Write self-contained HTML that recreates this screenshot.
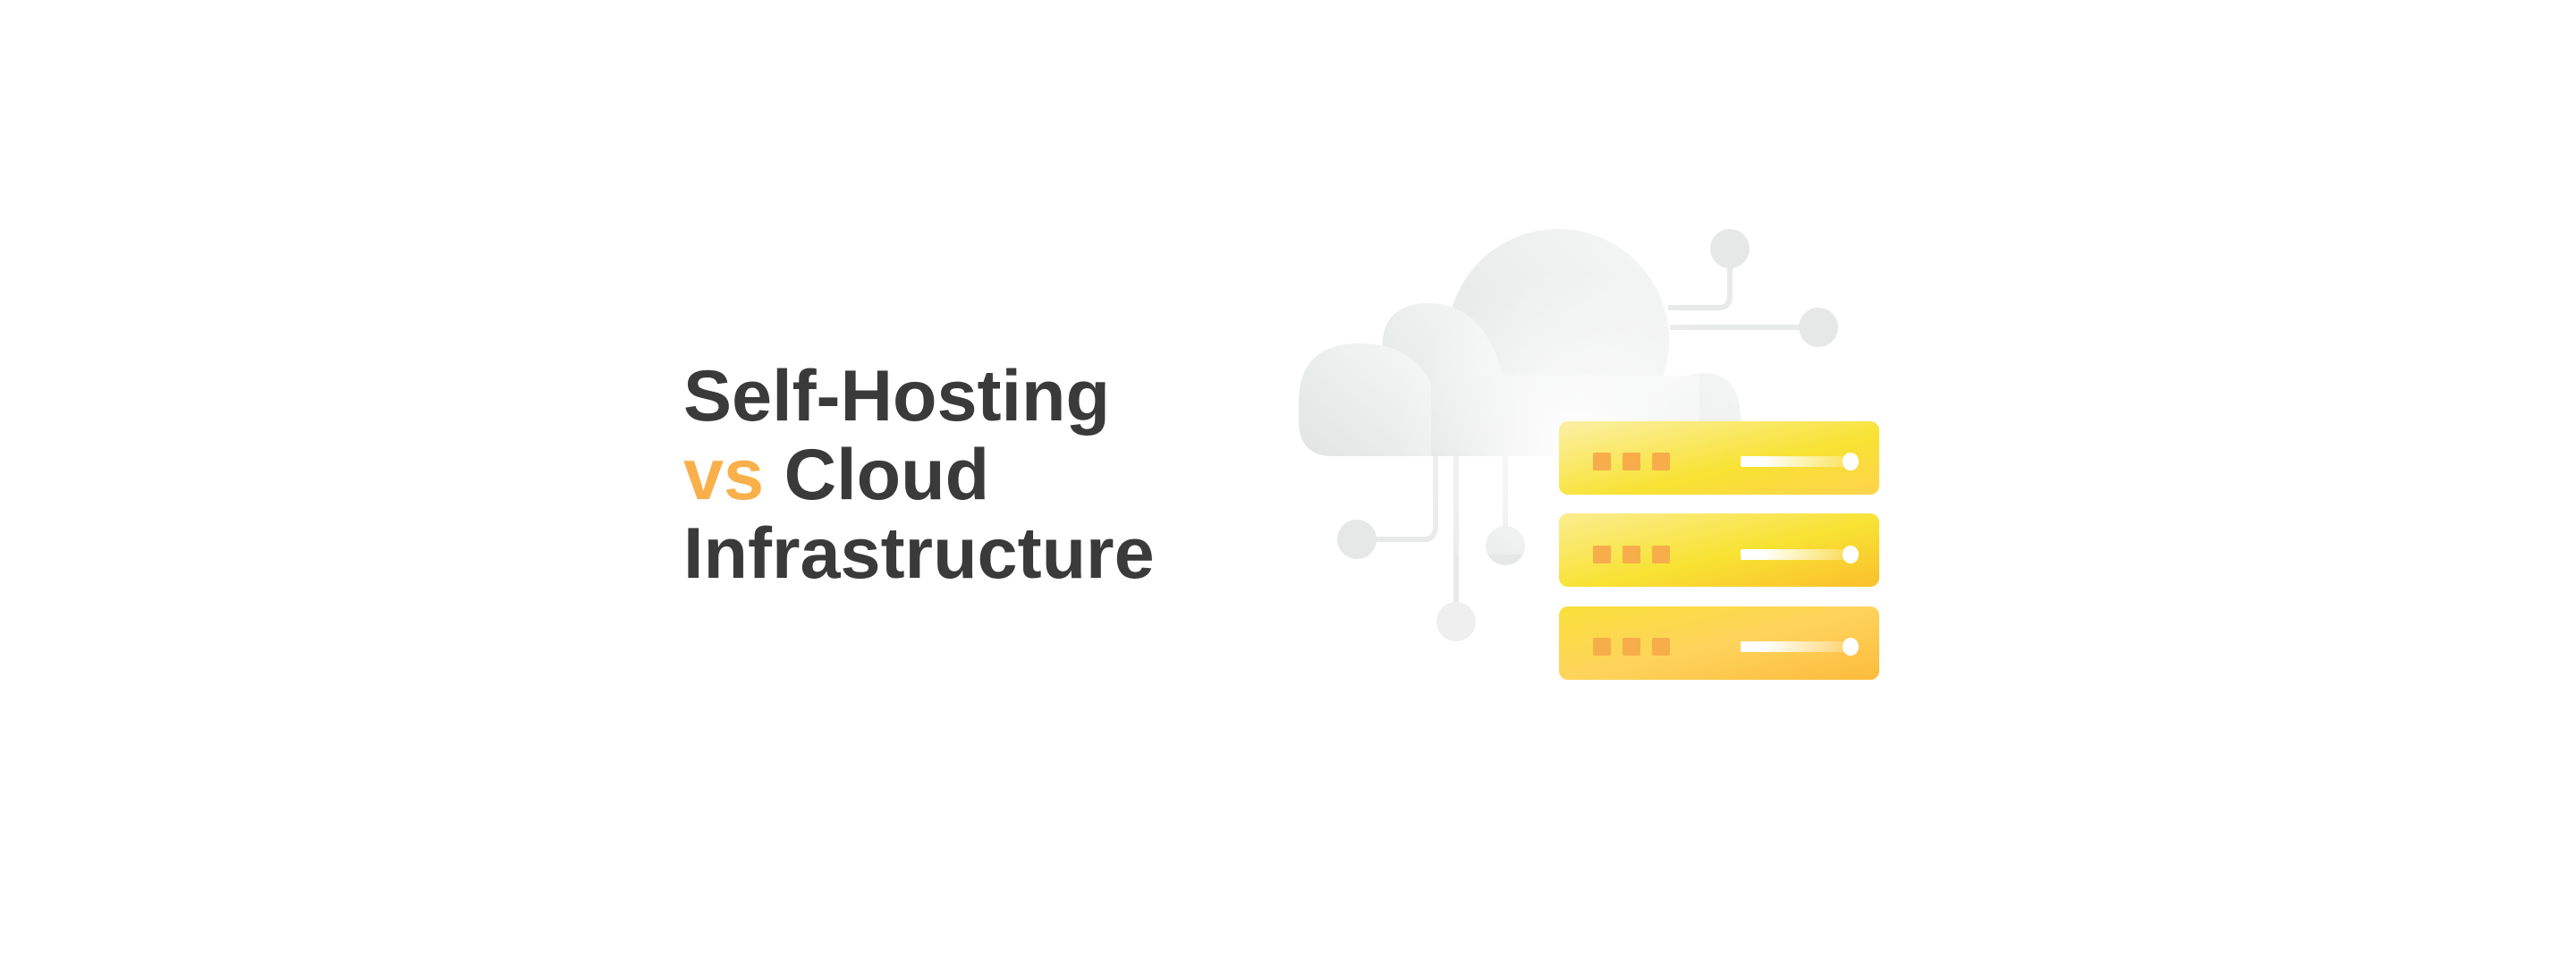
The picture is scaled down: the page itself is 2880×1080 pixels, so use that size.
<!DOCTYPE html>
<html><head><meta charset="utf-8"><style>
html,body{margin:0;padding:0;background:#fff;}
body{width:2880px;height:1080px;position:relative;overflow:hidden;}
.t{position:absolute;left:764px;font-family:"Liberation Sans",sans-serif;font-weight:bold;font-size:81px;color:#3a3a3a;letter-spacing:0px;line-height:88px;}
</style></head><body>
<div class="t" style="top:399px">Self-Hosting<br><span style="color:#f9b04a">vs</span> Cloud<br>Infrastructure</div>
<svg width="2880" height="1080" style="position:absolute;left:0;top:0">
<defs>
<linearGradient id="cl" x1="0" y1="1" x2="1" y2="0">
<stop offset="0" stop-color="#e2e3e3"/><stop offset="1" stop-color="#f6f7f7"/></linearGradient>
<radialGradient id="glow" cx="1760" cy="500" r="200" gradientUnits="userSpaceOnUse">
<stop offset="0" stop-color="#fff" stop-opacity="1"/><stop offset="1" stop-color="#fff" stop-opacity="0"/></radialGradient>
<linearGradient id="s1" x1="0" y1="0" x2="1" y2="1">
<stop offset="0" stop-color="#fbf0a6"/><stop offset="0.6" stop-color="#f8e232"/><stop offset="1" stop-color="#fdd34e"/></linearGradient>
<linearGradient id="s2" x1="0" y1="0" x2="1" y2="1">
<stop offset="0" stop-color="#fbed90"/><stop offset="0.55" stop-color="#f8e232"/><stop offset="1" stop-color="#fbbf2d"/></linearGradient>
<linearGradient id="s3" x1="0" y1="0" x2="1" y2="1">
<stop offset="0" stop-color="#f9e03a"/><stop offset="0.5" stop-color="#fed45c"/><stop offset="1" stop-color="#fcbb3d"/></linearGradient>
<linearGradient id="bar" x1="0" y1="0" x2="1" y2="0">
<stop offset="0.2" stop-color="#fff"/><stop offset="1" stop-color="#fff" stop-opacity="0.2"/></linearGradient>
</defs>
<g stroke="#e8e9e9" stroke-width="6" fill="none">
<path d="M1865 344 H1922 Q1934 344 1934 330 V290"/>
<path d="M1867 366 H2030"/>
<path d="M1520 603 H1592 Q1605 603 1605 588 V505"/>
<path d="M1683 505 V610"/>
<path d="M1628 505 V690"/>
</g>
<g fill="#e6e7e7">
<ellipse cx="1934" cy="278" rx="22" ry="22"/>
<ellipse cx="2033" cy="366" rx="22" ry="22"/>
<ellipse cx="1517" cy="603" rx="22" ry="22"/>
<ellipse cx="1683" cy="610" rx="22" ry="22"/>
<ellipse cx="1628" cy="695" rx="22" ry="22" fill="#efefef"/>
</g>
<g fill="url(#cl)">
<circle cx="1742" cy="380" r="124"/>
<path d="M1545 390 Q1545 339 1597 339 Q1660 339 1680 420 L1680 510 H1545Z"/>
<path d="M1452 450 Q1452 384 1520 384 Q1580 384 1600 430 L1600 510 H1490 Q1452 510 1452 470Z"/>
<path d="M1860 440 Q1880 417 1905 417 Q1946 417 1946 470 V510 H1860Z"/>
<rect x="1600" y="420" width="300" height="90"/>
</g>
<rect x="1500" y="300" width="520" height="320" fill="url(#glow)"/>
<g>
<rect x="1743" y="471" width="358" height="82" rx="10" fill="url(#s1)"/>
<rect x="1743" y="574" width="358" height="82" rx="10" fill="url(#s2)"/>
<rect x="1743" y="678" width="358" height="82" rx="10" fill="url(#s3)"/>
</g>
<g fill="#f8ad4b">
<rect x="1781" y="506" width="20" height="20" rx="2"/><rect x="1814" y="506" width="20" height="20" rx="2"/><rect x="1847" y="506" width="20" height="20" rx="2"/>
<rect x="1781" y="610" width="20" height="20" rx="2"/><rect x="1814" y="610" width="20" height="20" rx="2"/><rect x="1847" y="610" width="20" height="20" rx="2"/>
<rect x="1781" y="713" width="20" height="20" rx="2"/><rect x="1814" y="713" width="20" height="20" rx="2"/><rect x="1847" y="713" width="20" height="20" rx="2"/>
</g>
<g>
<rect x="1946" y="510" width="120" height="12" rx="2" fill="url(#bar)"/>
<rect x="1946" y="614" width="120" height="12" rx="2" fill="url(#bar)"/>
<rect x="1946" y="717" width="120" height="12" rx="2" fill="url(#bar)"/>
<g fill="#fff"><ellipse cx="2069" cy="516" rx="9" ry="10"/><ellipse cx="2069" cy="620" rx="9" ry="10"/><ellipse cx="2069" cy="723" rx="9" ry="10"/></g>
</g>
</svg>
</body></html>
